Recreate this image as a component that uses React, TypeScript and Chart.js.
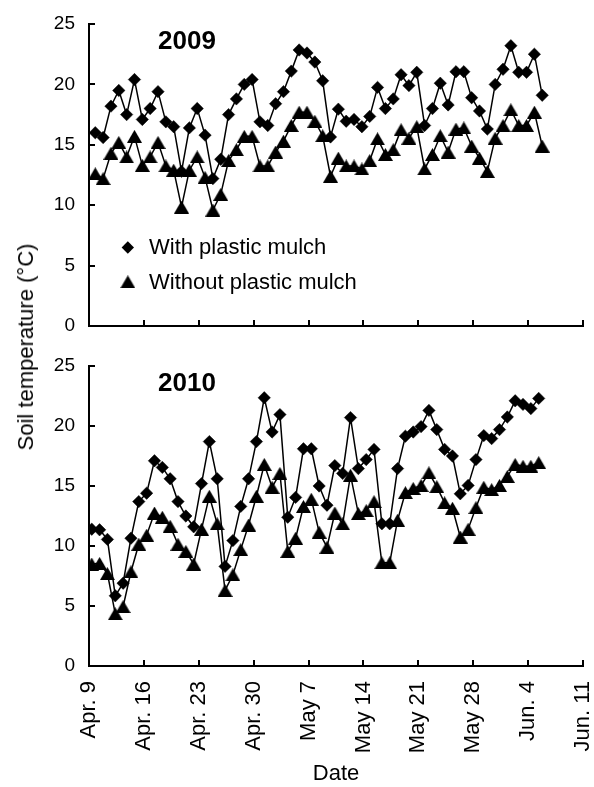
import React, { useEffect, useRef } from "react";
import { Chart, registerables } from "chart.js";

Chart.register(...registerables);

const FONT = "'Liberation Sans', Arial, Helvetica, sans-serif";
Chart.defaults.font.family = FONT;

// ---- data ----
const dateTickLabels = ["Apr. 9", "Apr. 16", "Apr. 23", "Apr. 30", "May 7", "May 14", "May 21", "May 28", "Jun. 4", "Jun. 11"];
const tickStepDays = 7;
const axisDays = 63; // Apr. 9 -> Jun. 11
const seriesNames = ["With plastic mulch", "Without plastic mulch"];
const panelYears = ["2009", "2010"];
const yAxisTitle = "Soil temperature (°C)";
const xAxisTitle = "Date";

// daily readings; first reading position in days after Apr. 9
const firstDay2009 = 0.8;
const firstDay2010 = 0.35;

const withMulch2009 = [
  16.0, 15.6, 18.2, 19.5, 17.5, 20.4, 17.1, 18.0, 19.4, 16.9,
  16.5, 12.8, 16.4, 18.0, 15.8, 12.2, 13.8, 17.5, 18.8, 20.0,
  20.4, 16.9, 16.6, 18.4, 19.4, 21.1, 22.85, 22.6, 21.85, 20.3,
  15.65, 17.95, 16.95, 17.1, 16.5, 17.35, 19.75, 18.0, 18.8, 20.8,
  19.9, 21.0, 16.6, 18.0, 20.1, 18.3, 21.05, 21.05, 18.9, 17.8,
  16.3, 20.0, 21.25, 23.2, 21.0, 21.0, 22.5, 19.1,
];
const withoutMulch2009 = [
  12.6, 12.2, 14.3, 15.2, 14.0, 15.7, 13.3, 14.0, 15.2, 13.25,
  12.9, 9.85, 12.9, 14.0, 12.3, 9.6, 10.9, 13.7, 14.6, 15.7,
  15.7, 13.25, 13.25, 14.4, 15.3, 16.6, 17.7, 17.7, 16.95, 15.75,
  12.4, 13.9, 13.25, 13.25, 13.0, 13.7, 15.5, 14.2, 14.6, 16.25,
  15.55, 16.5, 13.0, 14.2, 15.75, 14.4, 16.3, 16.4, 14.9, 13.9,
  12.8, 15.55, 16.6, 17.9, 16.6, 16.6, 17.7, 14.9,
];
const withMulch2010 = [
  11.4, 11.35, 10.55, 5.85, 6.9, 10.65, 13.7, 14.4, 17.1, 16.55,
  15.6, 13.7, 12.5, 11.6, 15.2, 18.7, 15.6, 8.3, 10.45, 13.3,
  15.6, 18.7, 22.35, 19.5, 20.95, 12.4, 14.05, 18.1, 18.1, 15.0,
  13.4, 16.7, 16.05, 20.7, 16.45, 17.2, 18.05, 11.85, 11.85, 16.45,
  19.15, 19.5, 19.95, 21.3, 19.7, 18.05, 17.5, 14.35, 15.05, 17.2,
  19.2, 18.95, 19.7, 20.75, 22.1, 21.8, 21.45, 22.3,
];
const withoutMulch2010 = [
  8.5, 8.55, 7.7, 4.35, 4.95, 7.85, 10.15, 10.9, 12.75, 12.4,
  11.65, 10.15, 9.55, 8.5, 11.4, 14.15, 11.85, 6.3, 7.6, 9.7,
  11.75, 14.15, 16.8, 14.9, 16.05, 9.55, 10.65, 13.3, 13.9, 11.15,
  9.9, 12.75, 11.85, 15.9, 12.7, 12.95, 13.7, 8.6, 8.6, 12.15,
  14.45, 14.8, 15.05, 16.1, 14.95, 13.6, 13.15, 10.75, 11.4, 13.2,
  14.9, 14.7, 15.05, 15.8, 16.8, 16.65, 16.65, 16.95,
];

const yMin = 0;
const yMax = 25;
const yStep = 5;

function toPoints(first: number, values: number[]) {
  return values.map((v, i) => ({ x: first + i, y: v }));
}

function makeTriangle(): HTMLCanvasElement {
  const c = document.createElement("canvas");
  c.width = 15;
  c.height = 13;
  const g = c.getContext("2d")!;
  g.fillStyle = "#000";
  g.beginPath();
  g.moveTo(7.5, 0);
  g.lineTo(15, 13);
  g.lineTo(0, 13);
  g.closePath();
  g.fill();
  return c;
}

const DIAMOND_R = 6.2;

type PanelProps = {
  year: string;
  first: number;
  mulch: number[];
  bare: number[];
  showLegend: boolean;
  showXLabels: boolean;
  top: number;
  height: number;
  padTop: number;
  padBottom: number;
  xHeight: number;
};

function Panel(p: PanelProps) {
  const ref = useRef<HTMLCanvasElement>(null);
  useEffect(() => {
    const tri = makeTriangle();
    const decor = {
      id: "decor",
      afterDraw(chart: any) {
        const { ctx, chartArea: a } = chart;
        const xs = chart.scales.x;
        const ys = chart.scales.y;
        ctx.save();
        ctx.strokeStyle = "#000";
        ctx.lineWidth = 2;
        ctx.beginPath();
        xs.ticks.forEach((t: any) => {
          const px = Math.round(xs.getPixelForValue(t.value));
          ctx.moveTo(px, a.bottom);
          ctx.lineTo(px, a.bottom - 6);
        });
        ys.ticks.forEach((t: any) => {
          const py = Math.round(ys.getPixelForValue(t.value));
          ctx.moveTo(a.left, py);
          ctx.lineTo(a.left + 6, py);
        });
        ctx.stroke();

        ctx.fillStyle = "#000";
        ctx.font = `bold 26px ${FONT}`;
        ctx.textAlign = "center";
        ctx.textBaseline = "middle";
        ctx.fillText(p.year, xs.getPixelForValue(12.5), ys.getPixelForValue(23.55));

        if (p.showLegend) {
          const mx = xs.getPixelForValue(4.95);
          const tx = xs.getPixelForValue(7.65);
          const y1 = ys.getPixelForValue(6.5);
          const y2 = ys.getPixelForValue(3.66);
          const r = DIAMOND_R;
          ctx.beginPath();
          ctx.moveTo(mx - r, y1);
          ctx.lineTo(mx, y1 - r);
          ctx.lineTo(mx + r, y1);
          ctx.lineTo(mx, y1 + r);
          ctx.closePath();
          ctx.fill();
          ctx.drawImage(tri, mx - tri.width / 2, y2 - tri.height / 2);
          ctx.font = `22px ${FONT}`;
          ctx.textAlign = "left";
          ctx.textBaseline = "middle";
          ctx.fillText(seriesNames[0], tx, y1);
          ctx.fillText(seriesNames[1], tx, y2 + 1);
        }
        ctx.restore();
      },
    };

    const chart = new Chart(ref.current!, {
      type: "line",
      data: {
        datasets: [
          {
            label: seriesNames[0],
            data: toPoints(p.first, p.mulch),
            borderColor: "#000",
            borderWidth: 1.5,
            backgroundColor: "#000",
            pointStyle: "rectRot",
            pointRadius: DIAMOND_R,
            pointBorderWidth: 0.5,
            pointBackgroundColor: "#000",
            pointBorderColor: "#000",
            tension: 0,
            order: 2,
          },
          {
            label: seriesNames[1],
            data: toPoints(p.first, p.bare),
            borderColor: "#000",
            borderWidth: 1.5,
            backgroundColor: "#000",
            pointStyle: tri as any,
            pointRadius: 7,
            pointBackgroundColor: "#000",
            pointBorderColor: "#000",
            tension: 0,
            order: 1,
          },
        ],
      },
      options: {
        responsive: false,
        maintainAspectRatio: false,
        animation: false,
        events: [],
        layout: { padding: { top: p.padTop, right: 11, bottom: p.padBottom, left: 0 } },
        plugins: { legend: { display: false }, tooltip: { enabled: false } },
        scales: {
          x: {
            type: "linear",
            min: 0,
            max: axisDays,
            grid: { display: false, drawTicks: false },
            border: { display: true, color: "#000", width: 2 },
            ticks: {
              display: p.showXLabels,
              stepSize: tickStepDays,
              autoSkip: false,
              minRotation: 90,
              maxRotation: 90,
              padding: 15,
              color: "#000",
              font: { family: FONT, size: 22 },
              callback: (v: any) => dateTickLabels[Math.round(Number(v) / tickStepDays)] ?? "",
            },
            title: {
              display: p.showXLabels,
              text: xAxisTitle,
              color: "#000",
              font: { family: FONT, size: 22 },
              padding: { top: 0, bottom: 0 },
            },
            afterFit: (s: any) => {
              s.paddingLeft = 0;
              s.paddingRight = 0;
              s.height = p.xHeight;
            },
          },
          y: {
            min: yMin,
            max: yMax,
            grid: { display: false, drawTicks: false },
            border: { display: true, color: "#000", width: 2 },
            ticks: {
              stepSize: yStep,
              padding: 14,
              color: "#000",
              font: { family: FONT, size: 19 },
            },
            afterFit: (s: any) => {
              s.width = 89;
              s.paddingTop = 0;
              s.paddingBottom = 0;
            },
          },
        },
      },
      plugins: [decor],
    } as any);
    return () => chart.destroy();
  }, []);
  return (
    <canvas
      ref={ref}
      width={594}
      height={p.height}
      style={{ position: "absolute", left: 0, top: p.top, display: "block" }}
    />
  );
}

export default function App() {
  return (
    <div style={{ position: "absolute", left: 0, top: 0, width: 594, height: 787, background: "#fff", overflow: "hidden" }}>
      <Panel
        year={panelYears[0]}
        first={firstDay2009}
        mulch={withMulch2009}
        bare={withoutMulch2009}
        showLegend={true}
        showXLabels={false}
        top={0}
        height={345}
        padTop={24}
        padBottom={19}
        xHeight={0}
      />
      <Panel
        year={panelYears[1]}
        first={firstDay2010}
        mulch={withMulch2010}
        bare={withoutMulch2010}
        showLegend={false}
        showXLabels={true}
        top={345}
        height={442}
        padTop={21}
        padBottom={0}
        xHeight={121}
      />
      <div
        style={{
          position: "absolute",
          left: 26,
          top: 347,
          transform: "translate(-50%, -50%) rotate(-90deg)",
          whiteSpace: "nowrap",
          fontFamily: FONT,
          fontSize: 22,
          color: "#000",
          lineHeight: 1,
        }}
      >
        {yAxisTitle}
      </div>
    </div>
  );
}
